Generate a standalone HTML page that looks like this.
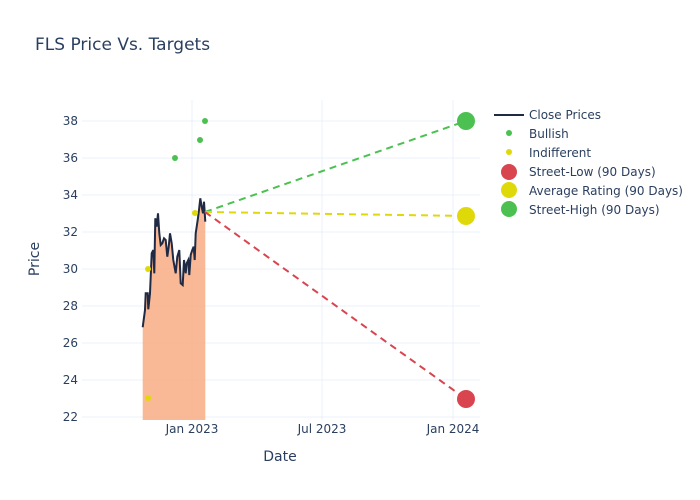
<!DOCTYPE html>
<html><head><style>body{margin:0;background:#fff}svg{display:block;font-family:"DejaVu Sans","Liberation Sans",sans-serif}</style></head><body>
<svg width="700" height="500" xmlns="http://www.w3.org/2000/svg">
<rect width="700" height="500" fill="#fff"/>
<text x="35" y="50" font-size="17" fill="#2a3f5f">FLS Price Vs. Targets</text>
<g stroke="#ebf0f8" stroke-width="1">
<line x1="192" y1="100" x2="192" y2="420"/><line x1="322" y1="100" x2="322" y2="420"/><line x1="453" y1="100" x2="453" y2="420"/>
<line x1="82" y1="121" x2="480" y2="121"/><line x1="82" y1="158" x2="480" y2="158"/><line x1="82" y1="195" x2="480" y2="195"/><line x1="82" y1="232" x2="480" y2="232"/><line x1="82" y1="269" x2="480" y2="269"/><line x1="82" y1="306" x2="480" y2="306"/><line x1="82" y1="343" x2="480" y2="343"/><line x1="82" y1="380" x2="480" y2="380"/><line x1="82" y1="417" x2="480" y2="417"/>
</g>
<g font-size="12" fill="#2a3f5f" text-anchor="end">
<text x="78" y="125">38</text><text x="78" y="162">36</text><text x="78" y="199">34</text><text x="78" y="236">32</text><text x="78" y="273">30</text><text x="78" y="310">28</text><text x="78" y="347">26</text><text x="78" y="384">24</text><text x="78" y="421">22</text>
</g>
<g font-size="12" fill="#2a3f5f" text-anchor="middle">
<text x="192" y="433">Jan 2023</text><text x="322" y="433">Jul 2023</text><text x="453" y="433">Jan 2024</text>
</g>
<text x="280" y="461" font-size="14" fill="#2a3f5f" text-anchor="middle">Date</text>
<text x="39" y="259" font-size="14" fill="#2a3f5f" text-anchor="middle" transform="rotate(-90 39 259)">Price</text>
<polygon fill="#f9a77c" fill-opacity="0.8" points="142.7,420 142.7,327.3 145,310 145.7,293.3 147.7,293.3 148.3,309.3 150,293.3 151.7,253.3 153.3,250 154.3,273.3 155.3,218.3 156.7,226.7 158,213.3 159.3,233.3 160.7,245 162.3,243.3 164,238.3 165.7,240 167.3,256.7 168.7,246.7 170,233.3 171.7,243.3 173.3,260 175.7,273.3 177.3,256.7 179.3,250 180.7,283.3 182.7,285 184,260 185.7,273.3 186.7,263.3 188.3,260 189.3,275 190.7,255 192.3,250 193.7,246.7 194.7,260 195.7,233.3 197.7,220 199,210 200.3,198.3 201.7,206.7 203,213.3 204,201.7 205.3,221.7 205.3,420"/>
<polyline fill="none" stroke="#1f2a44" stroke-width="2" points="142.7,327.3 145,310 145.7,293.3 147.7,293.3 148.3,309.3 150,293.3 151.7,253.3 153.3,250 154.3,273.3 155.3,218.3 156.7,226.7 158,213.3 159.3,233.3 160.7,245 162.3,243.3 164,238.3 165.7,240 167.3,256.7 168.7,246.7 170,233.3 171.7,243.3 173.3,260 175.7,273.3 177.3,256.7 179.3,250 180.7,283.3 182.7,285 184,260 185.7,273.3 186.7,263.3 188.3,260 189.3,275 190.7,255 192.3,250 193.7,246.7 194.7,260 195.7,233.3 197.7,220 199,210 200.3,198.3 201.7,206.7 203,213.3 204,201.7 205.3,221.7"/>
<g stroke-width="2" stroke-dasharray="7,5" fill="none">
<line x1="205" y1="212" x2="466" y2="121" stroke="#4cc151"/>
<line x1="205" y1="212" x2="466" y2="216" stroke="#e0d90a"/>
<line x1="205" y1="212" x2="466" y2="399" stroke="#d9454f"/>
</g>
<g fill="#4cc151"><circle cx="175" cy="158" r="3"/><circle cx="200" cy="140" r="3"/><circle cx="205" cy="121" r="3"/></g>
<g fill="#e0d90a"><circle cx="148" cy="269" r="3"/><circle cx="148" cy="398" r="3"/><circle cx="195" cy="213" r="3"/></g>
<circle cx="466" cy="121" r="9" fill="#4cc151"/>
<circle cx="466" cy="216" r="9" fill="#e0d90a"/>
<circle cx="466" cy="399" r="9" fill="#d9454f"/>
<g font-size="12" fill="#2a3f5f">
<line x1="494" y1="115" x2="524" y2="115" stroke="#1f2a44" stroke-width="2"/><text x="529" y="119">Close Prices</text>
<circle cx="509" cy="133" r="3" fill="#4cc151"/><text x="529" y="138">Bullish</text>
<circle cx="509" cy="152" r="3" fill="#e0d90a"/><text x="529" y="157">Indifferent</text>
<circle cx="509" cy="172" r="8" fill="#d9454f"/><text x="529" y="176">Street-Low (90 Days)</text>
<circle cx="509" cy="190" r="8" fill="#e0d90a"/><text x="529" y="195">Average Rating (90 Days)</text>
<circle cx="509" cy="209" r="8" fill="#4cc151"/><text x="529" y="214">Street-High (90 Days)</text>
</g>
</svg>
</body></html>
